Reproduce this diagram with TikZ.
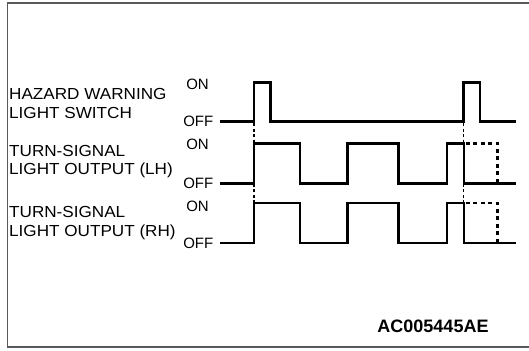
\documentclass[tikz,border=0pt]{standalone}
\usepackage{fontspec}
\setmainfont{Liberation Sans}
\newfontfamily\widefont[FakeStretch=1.07]{Liberation Sans}
\usetikzlibrary{positioning}

\begin{document}
\begin{tikzpicture}[x=1pt,y=-1pt,font=\fontsize{15}{17}\selectfont]
  \tikzstyle{wave}=[line width=2.8pt,line join=miter]
  \tikzstyle{ghost}=[line width=2.8pt,dash pattern=on 4pt off 3.5pt]
  \tikzstyle{guide}=[line width=1.1pt,dash pattern=on 3pt off 2.5pt]
  \tikzstyle{sig}=[align=left,anchor=west,inner sep=0pt,font=\widefont\fontsize{16}{18.3}\selectfont]
  \tikzstyle{lvl}=[anchor=east,inner sep=0pt]
  \useasboundingbox (0,0) rectangle (529,350);
  % frame
  \draw[line width=1.6pt,black!65] (529,3) -- (7.5,3) -- (7.5,347) -- (529,347);
  % signal names
  \node[sig] (hz) at (9,103.5) {HAZARD WARNING\\LIGHT SWITCH};
  \node[sig] (lh) at (9,161.5) {TURN-SIGNAL\\LIGHT OUTPUT (LH)};
  \node[sig] (rh) at (9,223) {TURN-SIGNAL\\LIGHT OUTPUT (RH)};
  % levels
  \foreach \on/\off/\n in {84.5/121.7/hz,144.5/183.5/lh,206/243/rh}{
    \node[lvl] (\n-on) at (209,\on) {ON};
    \node[lvl] (\n-off) at (213.5,\off) {OFF};
  }
  % hazard switch
  \draw[wave] (220,121.7) -- (254,121.7) -- (254,82.5) -- (270.5,82.5) -- (270.5,121.7)
    -- (463.5,121.7) -- (463.5,82.5) -- (480,82.5) -- (480,121.7) -- (516,121.7);
  % turn-signal outputs
  \foreach \on/\off in {143.3/183.5,203/243}{
    \draw[wave] (220,\off) -- (254,\off) -- (254,\on) -- (300,\on) -- (300,\off)
      -- (347.5,\off) -- (347.5,\on) -- (398.5,\on) -- (398.5,\off)
      -- (447,\off) -- (447,\on) -- (464,\on) -- (464,\off) -- (516,\off);
    \draw[ghost] (465.5,\on) -- (497.5,\on) -- (497.5,\off);
  }
  % timing guides
  \coordinate (t1) at (254,123);
  \coordinate (t1e) at (254,202);
  \coordinate (t2) at (463.5,123);
  \coordinate (t2e) at (463.5,202);
  \draw[guide] (t1) -- (t1e);
  \draw[guide,line width=1.8pt] (t2) -- (t2e);
  % figure code
  \node[font=\bfseries\fontsize{18}{20}\selectfont,inner sep=0pt] (code) at (433,326) {AC005445AE};
\end{tikzpicture}
\end{document}
